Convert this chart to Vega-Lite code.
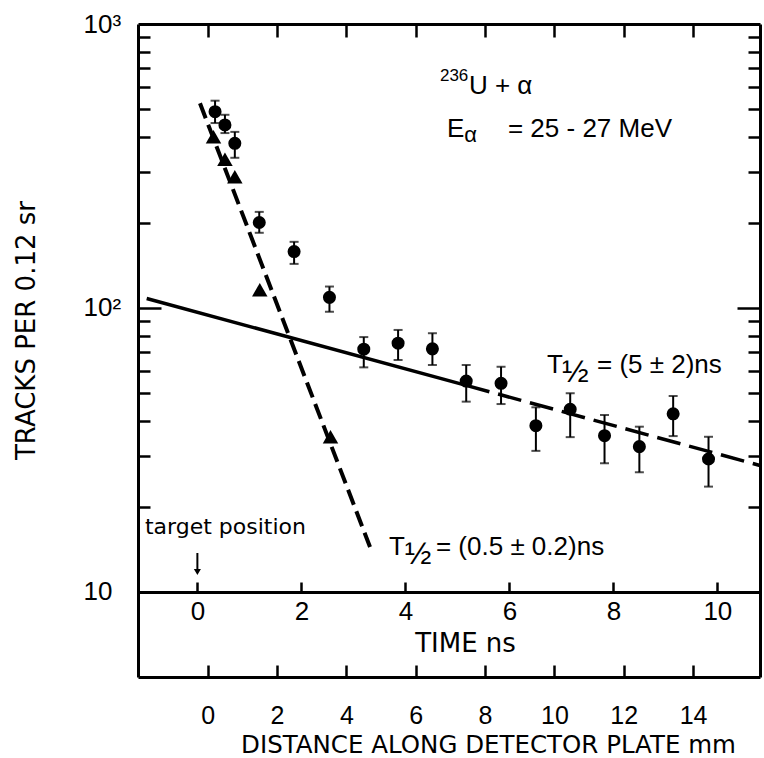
{
  "$schema": "https://vega.github.io/schema/vega-lite/v6.json",
  "width": 622,
  "height": 653,
  "autosize": {"type": "none"},
  "padding": {"left": 138, "top": 24, "right": 4, "bottom": 81},
  "background": "white",
  "config": {
    "view": {"stroke": null},
    "axis": {"grid": false, "domainColor": "black", "tickColor": "black", "labelColor": "black", "titleColor": "black", "titleFontWeight": "normal", "labelFlush": false, "labelOverlap": false, "labelBound": false, "tickWidth": 2.5, "domainWidth": 3}
  },
  "datasets": {
    "circles": [
      {"t": 0.34, "v": 491, "lo": 448, "hi": 537},
      {"t": 0.53, "v": 441, "lo": 413, "hi": 479},
      {"t": 0.72, "v": 380, "lo": 338, "hi": 417},
      {"t": 1.19, "v": 200, "lo": 184, "hi": 218},
      {"t": 1.86, "v": 158, "lo": 143, "hi": 171},
      {"t": 2.54, "v": 109, "lo": 97, "hi": 119},
      {"t": 3.20, "v": 71.6, "lo": 61.8, "hi": 79},
      {"t": 3.86, "v": 75.2, "lo": 65.6, "hi": 83.7},
      {"t": 4.52, "v": 71.8, "lo": 63, "hi": 81.5},
      {"t": 5.17, "v": 55.3, "lo": 46.8, "hi": 63},
      {"t": 5.84, "v": 54.3, "lo": 45.9, "hi": 62.1},
      {"t": 6.51, "v": 38.5, "lo": 31.4, "hi": 44.7},
      {"t": 7.17, "v": 44, "lo": 35.1, "hi": 50.1},
      {"t": 7.83, "v": 35.5, "lo": 28.4, "hi": 42},
      {"t": 8.50, "v": 32.5, "lo": 26.4, "hi": 38.2},
      {"t": 9.15, "v": 42.4, "lo": 35.4, "hi": 49},
      {"t": 9.83, "v": 29.4, "lo": 23.5, "hi": 35.2}
    ],
    "triangles": [
      {"t": 0.31, "v": 401},
      {"t": 0.53, "v": 334},
      {"t": 0.72, "v": 290},
      {"t": 1.20, "v": 116},
      {"t": 2.56, "v": 35.2}
    ],
    "fitSolid": [{"t": -0.975, "v": 108}, {"t": 5.17, "v": 53.4}],
    "fitDashed": [{"t": 5.17, "v": 53.4}, {"t": 10.82, "v": 27.9}],
    "fitSteep": [{"t": 0.05, "v": 526}, {"t": 3.32, "v": 14.4}],
    "bigText": [
      {"t": 5.223, "v": 602.6, "label": "U + α"},
      {"t": 4.800, "v": 426.9, "label": "E"},
      {"t": 5.973, "v": 426.9, "label": "= 25 - 27 MeV"},
      {"t": 6.723, "v": 63.0, "label": "T"},
      {"t": 7.685, "v": 63.0, "label": "= (5 ± 2)ns"},
      {"t": 3.685, "v": 14.46, "label": "T"},
      {"t": 4.588, "v": 14.46, "label": "= (0.5 ± 0.2)ns"}
    ],
    "supText": [{"t": 4.665, "v": 656, "label": "236"}],
    "subText": [{"t": 5.13, "v": 406.6, "label": "α"}],
    "halfText": [
      {"t": 7.01, "v": 59.5, "label": "½"},
      {"t": 3.99, "v": 13.56, "label": "½"}
    ],
    "noteText": [{"t": -1.008, "v": 16.89, "label": "target position"}],
    "arrow": [{"t": 0, "v": 13.72, "v2": 11.76}],
    "timeTicks": [{"t": 0}],
    "mmTicks": [{"d": 0}],
    "yTicks": [{"v": 100}]
  },
  "layer": [
    {
      "encoding": {
        "x": {"field": "t", "type": "quantitative", "title": "TIME ns",
          "scale": {"domain": [-1.142, 10.82], "nice": false, "zero": false},
          "axis": {"orient": "bottom", "offset": -85, "values": [0, 2, 4, 6, 8, 10], "format": "d",
            "ticks": false, "tickSize": 0, "domain": true,
            "labelFont": "Liberation Sans", "labelFontSize": 26, "labelPadding": 19.5, "labelBaseline": "middle",
            "titleFont": "DejaVu Sans", "titleFontSize": 26, "titleX": 327, "titleY": 51.7, "titleBaseline": "middle", "titleAlign": "center"}},
        "y": {"field": "v", "type": "quantitative", "title": "TRACKS PER 0.12 sr",
          "scale": {"type": "log", "domain": [5.02, 1000], "nice": false},
          "axis": {"orient": "left", "values": [10, 100, 1000],
            "labelExpr": "datum.value == 1000 ? '10³' : datum.value == 100 ? '10²' : '10'",
            "ticks": false, "tickSize": 0, "domain": true,
            "labelFont": "Liberation Sans", "labelFontSize": 26, "labelAlign": "left", "labelBaseline": "middle", "labelPadding": 55,
            "titleFont": "DejaVu Sans", "titleFontSize": 26, "titleX": -112, "titleY": 306, "titleAngle": 270, "titleAlign": "center", "titleBaseline": "middle"}}
      },
      "layer": [
        {"data": {"name": "fitSolid"}, "mark": {"type": "line", "color": "black", "strokeWidth": 3.5}},
        {"data": {"name": "fitDashed"}, "mark": {"type": "line", "color": "black", "strokeWidth": 3.5, "strokeDash": [24, 9]}},
        {"data": {"name": "fitSteep"}, "mark": {"type": "line", "color": "black", "strokeWidth": 4, "strokeDash": [16, 7]}},
        {"data": {"name": "circles"}, "mark": {"type": "rule", "color": "black", "strokeWidth": 2},
          "encoding": {"y": {"field": "lo", "type": "quantitative", "title": "TRACKS PER 0.12 sr", "scale": {"type": "log", "domain": [5.02, 1000], "nice": false}}, "y2": {"field": "hi"}}},
        {"data": {"name": "circles"}, "mark": {"type": "tick", "orient": "horizontal", "color": "black", "size": 9, "thickness": 2},
          "encoding": {"y": {"field": "lo", "type": "quantitative", "title": "TRACKS PER 0.12 sr", "scale": {"type": "log", "domain": [5.02, 1000], "nice": false}}}},
        {"data": {"name": "circles"}, "mark": {"type": "tick", "orient": "horizontal", "color": "black", "size": 9, "thickness": 2},
          "encoding": {"y": {"field": "hi", "type": "quantitative", "title": "TRACKS PER 0.12 sr", "scale": {"type": "log", "domain": [5.02, 1000], "nice": false}}}},
        {"data": {"name": "circles"}, "mark": {"type": "point", "shape": "circle", "filled": true, "color": "black", "size": 170, "opacity": 1}},
        {"data": {"name": "triangles"}, "mark": {"type": "point", "shape": "triangle-up", "filled": true, "color": "black", "size": 240, "opacity": 1}},
        {"data": {"name": "bigText"}, "mark": {"type": "text", "font": "Liberation Sans", "fontSize": 26, "align": "left", "baseline": "middle", "color": "black"},
          "encoding": {"text": {"field": "label"}}},
        {"data": {"name": "supText"}, "mark": {"type": "text", "font": "Liberation Sans", "fontSize": 17, "align": "left", "baseline": "middle", "color": "black"},
          "encoding": {"text": {"field": "label"}}},
        {"data": {"name": "subText"}, "mark": {"type": "text", "font": "Liberation Sans", "fontSize": 22, "align": "left", "baseline": "middle", "color": "black"},
          "encoding": {"text": {"field": "label"}}},
        {"data": {"name": "halfText"}, "mark": {"type": "text", "font": "Liberation Sans", "fontSize": 32, "align": "left", "baseline": "middle", "color": "black"},
          "encoding": {"text": {"field": "label"}}},
        {"data": {"name": "noteText"}, "mark": {"type": "text", "font": "DejaVu Sans", "fontSize": 22, "align": "left", "baseline": "middle", "color": "black"},
          "encoding": {"text": {"field": "label"}}},
        {"data": {"name": "arrow"}, "mark": {"type": "rule", "color": "black", "strokeWidth": 2},
          "encoding": {"y2": {"field": "v2"}}},
        {"data": {"name": "arrow"}, "mark": {"type": "point", "shape": "triangle-down", "filled": true, "color": "black", "size": 50, "opacity": 1},
          "encoding": {"y": {"field": "v2", "type": "quantitative", "title": "TRACKS PER 0.12 sr", "scale": {"type": "log", "domain": [5.02, 1000], "nice": false}}}}
      ]
    },
    {
      "data": {"name": "timeTicks"},
      "mark": {"type": "rule", "opacity": 0},
      "encoding": {
        "x": {"field": "t", "type": "quantitative", "title": null,
          "scale": {"domain": [-1.142, 10.82], "nice": false, "zero": false},
          "axis": {"orient": "top", "offset": -568, "values": [0, 2, 4, 6, 8, 10], "tickSize": 10, "labels": false, "domain": false, "title": null}}
      }
    },
    {
      "data": {"name": "mmTicks"},
      "mark": {"type": "rule", "opacity": 0},
      "encoding": {
        "x": {"field": "d", "type": "quantitative", "title": "DISTANCE ALONG DETECTOR PLATE mm",
          "scale": {"domain": [-2.01, 15.93], "nice": false, "zero": false},
          "axis": {"orient": "bottom", "values": [0, 2, 4, 6, 8, 10, 12, 14], "format": "d",
            "ticks": false, "tickSize": 0, "domain": true,
            "labelFont": "Liberation Sans", "labelFontSize": 25, "labelPadding": 38.5, "labelBaseline": "middle",
            "titleFont": "DejaVu Sans", "titleFontSize": 24.5, "titleX": 350, "titleY": 68.5, "titleBaseline": "middle", "titleAlign": "center"}}
      }
    },
    {
      "data": {"name": "mmTicks"},
      "mark": {"type": "rule", "opacity": 0},
      "encoding": {
        "x": {"field": "d", "type": "quantitative", "title": null,
          "scale": {"domain": [-2.01, 15.93], "nice": false, "zero": false},
          "axis": {"orient": "top", "offset": -653, "values": [0, 2, 4, 6, 8, 10, 12, 14], "tickSize": 12, "labels": false, "domain": false, "title": null}}
      }
    },
    {
      "data": {"name": "mmTicks"},
      "mark": {"type": "rule", "opacity": 0},
      "encoding": {
        "x": {"field": "d", "type": "quantitative", "title": null,
          "scale": {"domain": [-2.01, 15.93], "nice": false, "zero": false},
          "axis": {"orient": "bottom", "offset": -653, "values": [0, 2, 4, 6, 8, 10, 12, 14], "tickSize": 13, "labels": false, "domain": true, "title": null}}
      }
    },
    {
      "data": {"name": "yTicks"},
      "mark": {"type": "point", "opacity": 0},
      "encoding": {
        "y": {"field": "v", "type": "quantitative", "title": null,
          "scale": {"type": "log", "domain": [5.02, 1000], "nice": false},
          "axis": {"orient": "right", "offset": -622, "values": [20, 30, 40, 50, 60, 70, 80, 90, 200, 300, 400, 500, 600, 700, 800, 900], "tickSize": 12, "labels": false, "domain": false, "title": null}}
      }
    },
    {
      "data": {"name": "yTicks"},
      "mark": {"type": "point", "opacity": 0},
      "encoding": {
        "y": {"field": "v", "type": "quantitative", "title": null,
          "scale": {"type": "log", "domain": [5.02, 1000], "nice": false},
          "axis": {"orient": "right", "offset": -622, "values": [100], "tickSize": 23, "labels": false, "domain": false, "title": null}}
      }
    },
    {
      "data": {"name": "yTicks"},
      "mark": {"type": "point", "opacity": 0},
      "encoding": {
        "y": {"field": "v", "type": "quantitative", "title": null,
          "scale": {"type": "log", "domain": [5.02, 1000], "nice": false},
          "axis": {"orient": "left", "offset": -622, "values": [20, 30, 40, 50, 60, 70, 80, 90, 200, 300, 400, 500, 600, 700, 800, 900], "tickSize": 12, "labels": false, "domain": true, "title": null}}
      }
    },
    {
      "data": {"name": "yTicks"},
      "mark": {"type": "point", "opacity": 0},
      "encoding": {
        "y": {"field": "v", "type": "quantitative", "title": null,
          "scale": {"type": "log", "domain": [5.02, 1000], "nice": false},
          "axis": {"orient": "left", "offset": -622, "values": [100], "tickSize": 23, "labels": false, "domain": false, "title": null}}
      }
    }
  ],
  "resolve": {"scale": {"x": "independent", "y": "shared"}, "axis": {"x": "independent", "y": "independent"}}
}
